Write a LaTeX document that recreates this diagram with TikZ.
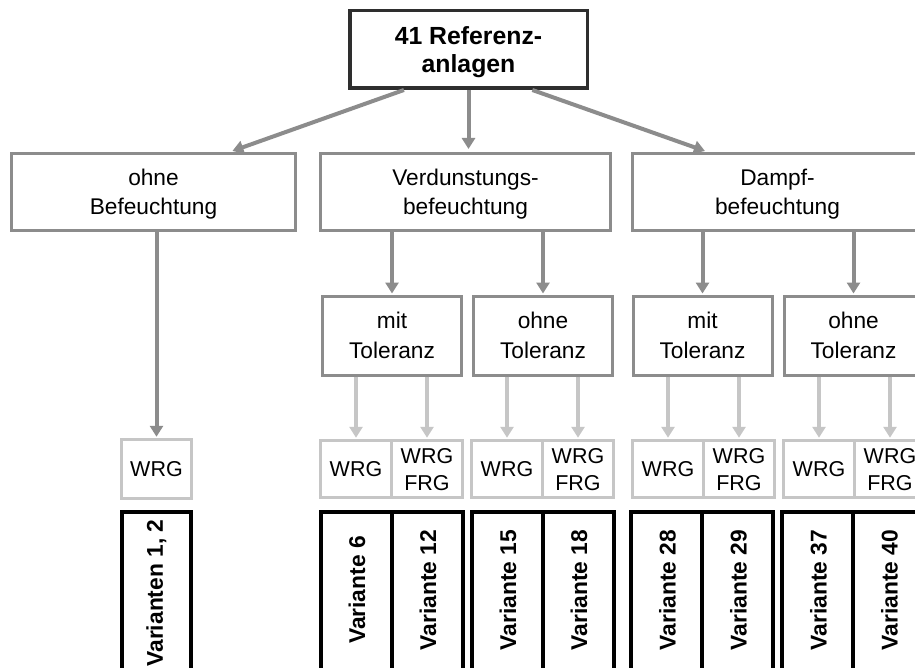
\documentclass[tikz,border=0pt]{standalone}
\usepackage{fontspec}
\setmainfont{Liberation Sans}
\usetikzlibrary{arrows.meta,calc}

\definecolor{topline}{HTML}{2E2E2E}
\definecolor{midgray}{HTML}{8C8C8C}
\definecolor{palegray}{HTML}{C6C6C6}

\tikzset{
  box/.style={draw, fill=white, inner sep=0pt, align=center, text depth=0pt,
    font=\fontsize{22.7}{29.5}\selectfont},
  topbox/.style={box, draw=topline, line width=3.5pt, minimum width=237.5pt,
    minimum height=77.5pt, font=\fontsize{24.8}{28.5}\selectfont\bfseries},
  groupbox/.style={box, draw=midgray, line width=3pt, minimum height=77pt},
  tolbox/.style={box, draw=midgray, line width=3pt, minimum width=139pt, minimum height=79pt},
  hrgbox/.style={box, draw=palegray, line width=3.5pt, minimum width=71pt,
    minimum height=57pt, font=\fontsize{21.5}{27}\selectfont},
  varbox/.style={draw=black, line width=4pt, inner sep=0pt, minimum width=71pt,
    minimum height=180pt},
  vartext/.style={rotate=90, inner sep=0pt, font=\fontsize{22.8}{26}\selectfont\bfseries},
  arr/.style={draw=midgray, line width=4pt, -{Triangle[width=13pt,length=11pt]}},
  parr/.style={draw=palegray, line width=4pt, -{Triangle[width=13pt,length=11pt]}},
}

\begin{document}
\begin{tikzpicture}[x=1pt,y=-1pt]
\useasboundingbox (0,0) rectangle (915,668);
\fill[white] (0,0) rectangle (915,668);
\clip (0,0) rectangle (915,668);

% root
\node[topbox] (T) at (468.5,49.5) {41 Referenz-\\anlagen};

% humidification types
\node[groupbox, minimum width=284pt] (A) at (153.5,192) {ohne\\Befeuchtung};
\node[groupbox, minimum width=290pt] (B) at (465.5,192) {Verdunstungs-\\befeuchtung};
\node[groupbox, minimum width=290pt] (C) at (777.5,192) {Dampf-\\befeuchtung};

% tolerance
\node[tolbox] (B1) at (392,335.5) {mit\\Toleranz};
\node[tolbox] (B2) at (543,335.5) {ohne\\Toleranz};
\node[tolbox] (C1) at (702.5,335.5) {mit\\Toleranz};
\node[tolbox] (C2) at (853.5,335.5) {ohne\\Toleranz};

% heat / moisture recovery
\node[hrgbox, minimum width=70pt, minimum height=59pt] (w0) at (156.5,469) {WRG};
\node[hrgbox] (w1a) at (356,469) {WRG};
\node[hrgbox] (w1b) at (427,469) {WRG\\FRG};
\node[hrgbox] (w2a) at (507,469) {WRG};
\node[hrgbox] (w2b) at (578,469) {WRG\\FRG};
\node[hrgbox] (w3a) at (668,469) {WRG};
\node[hrgbox] (w3b) at (739,469) {WRG\\FRG};
\node[hrgbox] (w4a) at (819,469) {WRG};
\node[hrgbox] (w4b) at (890,469) {WRG\\FRG};

% variants
\node[varbox, minimum width=69pt] (v0) at (156.5,602) {};
\node[varbox] (v1a) at (356,602) {};
\node[varbox] (v1b) at (427,602) {};
\node[varbox] (v2a) at (507,602) {};
\node[varbox] (v2b) at (578,602) {};
\node[varbox] (v3a) at (666.5,602) {};
\node[varbox] (v3b) at (737.5,602) {};
\node[varbox] (v4a) at (817.5,602) {};
\node[varbox] (v4b) at (888.5,602) {};

\node[vartext] (t0)  at ($(v0.north)+(0,83)$)  {Varianten 1, 2};
\node[vartext] (t1a) at ($(v1a.north)+(1,80)$) {Variante 6};
\node[vartext] (t1b) at ($(v1b.north)+(1,80)$) {Variante 12};
\node[vartext] (t2a) at ($(v2a.north)+(1,80)$) {Variante 15};
\node[vartext] (t2b) at ($(v2b.north)+(1,80)$) {Variante 18};
\node[vartext] (t3a) at ($(v3a.north)+(1,80)$) {Variante 28};
\node[vartext] (t3b) at ($(v3b.north)+(1,80)$) {Variante 29};
\node[vartext] (t4a) at ($(v4a.north)+(1,80)$) {Variante 37};
\node[vartext] (t4b) at ($(v4b.north)+(1,80)$) {Variante 40};

% connectors: root to types
\draw[arr, shorten >=3pt] ($(T.south west)!0.232!(T.south east)$) -- ($(A.north west)!0.765!(A.north east)$);
\draw[arr, shorten >=3pt] (T.south) -- (T.south |- B.north);
\draw[arr, shorten >=3pt] ($(T.south west)!0.765!(T.south east)$) -- ($(C.north west)!0.262!(C.north east)$);

% types to tolerance
\draw[arr, shorten >=1pt] (B1.north |- B.south) -- (B1.north);
\draw[arr, shorten >=1pt] (B2.north |- B.south) -- (B2.north);
\draw[arr, shorten >=1pt] (C1.north |- C.south) -- (C1.north);
\draw[arr, shorten >=1pt] (C2.north |- C.south) -- (C2.north);
\draw[arr, shorten >=1pt] (w0.north |- A.south) -- (w0.north);

% tolerance to recovery
\foreach \p/\c in {B1/w1a, B1/w1b, B2/w2a, B2/w2b, C1/w3a, C1/w3b, C2/w4a, C2/w4b}
  \draw[parr, shorten >=1pt] (\c.north |- \p.south) -- (\c.north);
\end{tikzpicture}
\end{document}
